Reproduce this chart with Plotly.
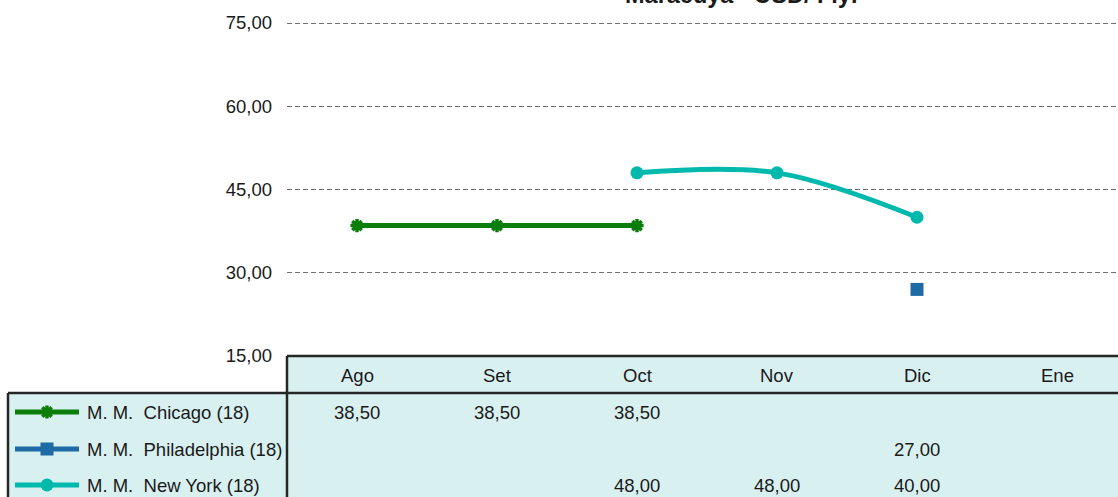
import plotly.graph_objects as go

# ---------------- data ----------------
categories = ["Ago", "Set", "Oct", "Nov", "Dic", "Ene"]
chicago = [38.50, 38.50, 38.50, None, None, None]
philadelphia = [None, None, None, None, 27.00, None]
new_york = [None, None, 48.00, 48.00, 40.00, None]
series_names = ["M. M.\u00a0 Chicago (18)", "M. M.\u00a0 Philadelphia (18)", "M. M.\u00a0 New York (18)"]
y_ticks = [15, 30, 45, 60, 75]
title_text = "Maracuyá - USD/ Flyr"

# ---------------- styles / layout (figure pixels) ----------------
W, H = 1118, 497
FONT = "Liberation Sans, Arial, sans-serif"
FS = 18.5
C_CHI = "#0b7d0b"
C_PHI = "#1d6aa5"
C_NY = "#00b9ad"
TABLE_FILL = "#d9f0f0"
BORDER = "#262626"
TXT = "#1a1a1a"

PLOT_L = 287
PLOT_T = 23            # y pixel of value 75
PLOT_B = 356           # y pixel of value 15
HEAD_B = 393
HEAD_Y = 375
ROW_Y = [412, 449, 485]
LEG_L = 8
COL_W = 140
Y_MIN, Y_MAX = 15, 76
px_per_unit = (PLOT_B - PLOT_T) / 60.0
dom_top_px = PLOT_B - (Y_MAX - Y_MIN) * px_per_unit

fig = go.Figure()

series = [chicago, philadelphia, new_york]
styles = [
    dict(mode="lines+markers", line=dict(color=C_CHI, width=5),
         marker=dict(symbol="asterisk-open", size=11, color=C_CHI, line=dict(color=C_CHI, width=3.5))),
    dict(mode="lines+markers", line=dict(color=C_PHI, width=5),
         marker=dict(symbol="square", size=13, color=C_PHI)),
    dict(mode="lines+markers", line=dict(color=C_NY, width=5, shape="spline", smoothing=1),
         marker=dict(symbol="circle", size=13, color=C_NY)),
]
for name, vals, st in zip(series_names, series, styles):
    fig.add_trace(go.Scatter(x=categories, y=vals, name=name, showlegend=False,
                             connectgaps=False, xaxis="x", yaxis="y", **st))

# legend samples inside the data table (pixel overlay axis x2/y2)
colors = [C_CHI, C_PHI, C_NY]
for i, st in enumerate(styles):
    fig.add_trace(go.Scatter(x=[15, 79], y=[ROW_Y[i], ROW_Y[i]], mode="lines",
                             line=dict(color=colors[i], width=5),
                             xaxis="x2", yaxis="y2", showlegend=False, hoverinfo="skip"))
    fig.add_trace(go.Scatter(x=[47], y=[ROW_Y[i]], mode="markers", marker=st["marker"],
                             xaxis="x2", yaxis="y2", showlegend=False, hoverinfo="skip"))

shapes = []
def pshape(**kw):
    d = dict(xref="x2", yref="y2", layer="below")
    d.update(kw)
    shapes.append(d)

pshape(type="rect", x0=PLOT_L, x1=W + 20, y0=PLOT_B, y1=HEAD_B, fillcolor=TABLE_FILL, line=dict(width=0))
pshape(type="rect", x0=LEG_L, x1=W + 20, y0=HEAD_B, y1=H + 20, fillcolor=TABLE_FILL, line=dict(width=0))
bl = dict(color=BORDER, width=2.5)
pshape(type="line", x0=PLOT_L, x1=W + 20, y0=PLOT_B, y1=PLOT_B, line=bl, layer="above")
pshape(type="line", x0=LEG_L, x1=W + 20, y0=HEAD_B, y1=HEAD_B, line=bl, layer="above")
pshape(type="line", x0=PLOT_L, x1=PLOT_L, y0=PLOT_B, y1=H + 20, line=bl, layer="above")
pshape(type="line", x0=LEG_L, x1=LEG_L, y0=HEAD_B, y1=H + 20, line=bl, layer="above")

annotations = []
for c in categories:
    annotations.append(dict(x=c, y=HEAD_Y, xref="x", yref="y2", text=c,
                            showarrow=False, font=dict(family=FONT, size=FS, color=TXT)))
for i, vals in enumerate(series):
    for c, v in zip(categories, vals):
        if v is None:
            continue
        annotations.append(dict(x=c, y=ROW_Y[i], xref="x", yref="y2",
                                text=f"{v:.2f}".replace(".", ","), showarrow=False,
                                font=dict(family=FONT, size=FS, color=TXT)))
    annotations.append(dict(x=85, y=ROW_Y[i], xref="x2", yref="y2", text=series_names[i],
                            xanchor="left", showarrow=False,
                            font=dict(family=FONT, size=FS, color=TXT)))
annotations.append(dict(x=742, y=10, xref="x2", yref="y2", text="<b>" + title_text + "</b>",
                        yanchor="bottom", showarrow=False,
                        font=dict(family=FONT, size=23.5, color=TXT)))

fig.update_layout(
    width=W, height=H,
    margin=dict(l=0, r=0, t=0, b=0, autoexpand=False),
    paper_bgcolor="white", plot_bgcolor="rgba(0,0,0,0)",
    separators=",.",
    showlegend=False,
    font=dict(family=FONT, size=FS, color=TXT),
    xaxis=dict(type="category", domain=[PLOT_L / W, 1.0],
               range=[-0.5, -0.5 + (W - PLOT_L) / COL_W], automargin=False,
               showgrid=False, zeroline=False, showline=False, showticklabels=False, ticks=""),
    yaxis=dict(domain=[(H - PLOT_B) / H, (H - dom_top_px) / H], range=[Y_MIN, Y_MAX],
               tickvals=y_ticks, tickformat=".2f", showgrid=True, gridcolor="#6e6e6e",
               griddash="5px,3px", gridwidth=1, zeroline=False, showline=False, automargin=False,
               ticks="", ticklabelstandoff=14, tickfont=dict(family=FONT, size=FS, color=TXT)),
    xaxis2=dict(domain=[0, 1], range=[0, W], visible=False, fixedrange=True, automargin=False),
    yaxis2=dict(domain=[0, 1], range=[H, 0], visible=False, fixedrange=True, automargin=False),
    shapes=shapes,
    annotations=annotations,
)

fig.write_html("out.html",
               config={"displayModeBar": False},
               post_script="document.body.style.margin='0px';document.body.style.overflow='hidden';")
